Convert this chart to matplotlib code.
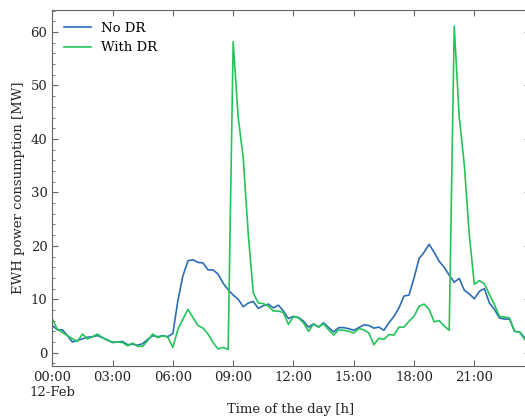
import numpy as np
import pandas as pd
import matplotlib
matplotlib.use('Agg')
import matplotlib.pyplot as plt
import matplotlib.dates as mdates
from matplotlib.ticker import AutoMinorLocator, FuncFormatter

# EWH consumption [MW], 15-min steps starting 12-Feb 00:00 (one row = 2 hours)
no_dr = [5.1, 4.3, 4.3, 3.2, 2.0, 2.3, 2.6, 2.9,
         3.0, 3.2, 2.8, 2.4, 1.9, 2.0, 2.1, 1.5,
         1.6, 1.4, 1.7, 2.5, 3.2, 3.0, 3.2, 3.0,
         3.6, 9.8, 14.4, 17.2, 17.4, 16.9, 16.8, 15.5,
         15.5, 14.7, 13.0, 11.8, 10.8, 10.0, 8.6, 9.3,
         9.6, 8.3, 8.8, 9.1, 8.4, 8.9, 7.8, 6.4,
         6.8, 6.6, 5.9, 4.8, 5.4, 4.8, 5.6, 4.7,
         3.9, 4.7, 4.7, 4.5, 4.2, 4.7, 5.2, 5.1,
         4.6, 4.8, 4.2, 5.6, 6.8, 8.4, 10.6, 10.8,
         14.0, 17.6, 18.8, 20.3, 18.8, 17.1, 16.0, 14.5,
         13.2, 13.9, 11.7, 11.0, 10.1, 11.5, 12.0, 9.3,
         8.1, 6.5, 6.3, 6.3, 4.0, 3.9, 2.8, 2.2]
with_dr = [6.3, 4.4, 3.8, 3.2, 2.6, 2.1, 3.5, 2.6,
           3.0, 3.5, 2.8, 2.3, 2.0, 2.0, 1.9, 1.3,
           1.8, 1.2, 1.2, 2.3, 3.5, 2.8, 3.2, 2.9,
           1.0, 4.4, 6.3, 8.1, 6.6, 5.1, 4.6, 3.5,
           1.9, 0.7, 1.0, 0.6, 58.2, 44.0, 36.5, 22.2,
           11.2, 9.3, 9.2, 8.7, 7.8, 7.8, 7.5, 5.3,
           6.8, 6.5, 5.6, 4.0, 5.4, 4.8, 5.4, 4.3,
           3.3, 4.3, 4.2, 4.0, 3.7, 4.5, 4.3, 3.7,
           1.5, 2.7, 2.5, 3.4, 3.3, 4.8, 4.8, 5.9,
           6.8, 8.7, 9.1, 8.1, 5.8, 6.0, 5.0, 4.2,
           61.1, 44.0, 35.2, 22.0, 12.8, 13.5, 12.9, 10.9,
           9.0, 6.8, 6.7, 6.5, 4.0, 3.9, 2.5, 2.0]
labels = ['No DR', 'With DR']

times = pd.date_range('2023-02-12 00:00', periods=len(no_dr), freq='15min')

plt.rcParams['font.family'] = 'DejaVu Serif'

fig = plt.figure(figsize=(5.25, 4.2), dpi=100)
ax = fig.add_axes([52.3 / 525, 54.3 / 420, (529.6 - 52.3) / 525, 355.7 / 420])

ax.plot(times, no_dr, color='#2c6db5', lw=1.2, label=labels[0])
ax.plot(times, with_dr, color='#25c45a', lw=1.2, label=labels[1])

ax.set_xlim(times[0], times[-1])
ax.margins(y=0.05)


def time_fmt(x, pos):
    d = mdates.num2date(x)
    s = d.strftime('%H:%M')
    if d.hour == 0 and d.minute == 0:
        s += '\n' + d.strftime('%d-%b')
    return s


ax.xaxis.set_major_locator(mdates.HourLocator(byhour=range(0, 24, 3)))
ax.xaxis.set_major_formatter(FuncFormatter(time_fmt))
ax.yaxis.set_minor_locator(AutoMinorLocator(5))
ax.set_yticks([0, 10, 20, 30, 40, 50, 60])

ax.tick_params(which='both', direction='in', top=True, right=True,
               colors='#666666', labelcolor='#262626', labelsize=9.5)
ax.tick_params(which='major', length=4, width=0.8)
ax.tick_params(which='minor', length=2, width=0.6)
for sp in ax.spines.values():
    sp.set_color('#666666')

ax.set_xlabel('Time of the day [h]', fontsize=9.5, color='#262626', labelpad=3)
ax.set_ylabel('EWH power consumption [MW]', fontsize=9.5, color='#262626')

ax.legend(loc='upper left', frameon=False, fontsize=9.5)

fig.savefig('out.png', dpi=100)
